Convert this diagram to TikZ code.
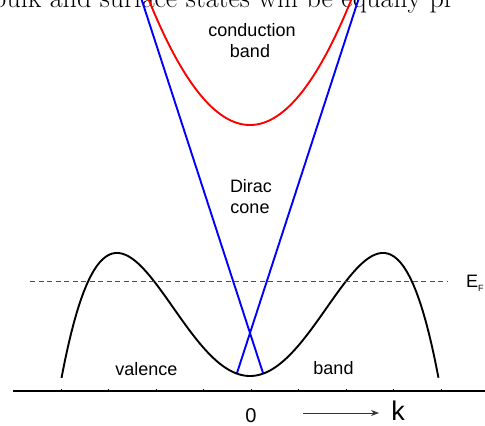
\documentclass[tikz,border=0pt]{standalone}
\usepackage{fontspec}
\newfontfamily\lsans{Liberation Sans}
\usetikzlibrary{arrows.meta}
\tikzset{
  lbl/.style={font=\lsans\fontsize{18}{21}\selectfont, align=center, inner sep=0pt},
  band/.style={line width=1.9pt, line join=round},
}
\begin{document}
\begin{tikzpicture}[x=1pt,y=-1pt]
\useasboundingbox (0,0) rectangle (485,426);
\clip (0,0) rectangle (485,426);
% cut-off page text at top
\node[anchor=base west, inner sep=0pt, font=\fontsize{28}{30}\selectfont] (toptext) at (-8,7) {bulk and surface states will be equally pr};
% conduction band
\draw[band, red] plot[domain=-1.12:1.12, samples=80, variable=\v] ({250+100*\v}, {125-122.2*\v*\v});
% Dirac cone
\draw[band, blue] (138.5,-10) -- (263,373);
\draw[band, blue] (361.5,-10) -- (237,373);
% valence band
\draw[band, black] plot[domain=-1.885:1.885, samples=120, variable=\v] ({250+100*\v}, {376-139.1*\v*\v+39.3*\v*\v*\v*\v});
% Fermi level
\draw[black!70, line width=0.9pt, dash pattern=on 5pt off 3.5pt] (30,281) -- (448,281);
\node[anchor=base west, inner sep=0pt, font=\lsans\fontsize{18}{21}\selectfont] (ef) at (466,287) {E\raisebox{-4pt}{\fontsize{9}{10}\selectfont F}};
% axis
\draw[black, line width=1.1pt] (13,391) -- (490,391);
\foreach \i in {0,...,8} \draw[black, line width=0.8pt] ({61.3+47.5*\i},391) -- ({61.3+47.5*\i},388.5);
% labels
\node[lbl, anchor=base] (cond) at (252,36) {conduction};
\node[lbl, anchor=base] (condb) at (250,57) {band};
\node[lbl, anchor=base] (dirac) at (251,192) {Dirac};
\node[lbl, anchor=base] (cone) at (250,213) {cone};
\node[lbl, anchor=base] (val) at (146.5,375) {valence};
\node[lbl, anchor=base] (vband) at (333.5,374) {band};
\node[anchor=base, inner sep=0pt, font=\lsans\fontsize{20}{22}\selectfont] (zero) at (251,422) {0};
\node[anchor=base, inner sep=0pt, font=\lsans\fontsize{27}{30}\selectfont] (kk) at (398,420.5) {k};
\coordinate (a0) at (303,413);
\coordinate (a1) at (379,413);
\draw[black!80, line width=1pt, -{Stealth[length=8pt,width=6pt]}] (a0) -- (a1);
\end{tikzpicture}
\end{document}
